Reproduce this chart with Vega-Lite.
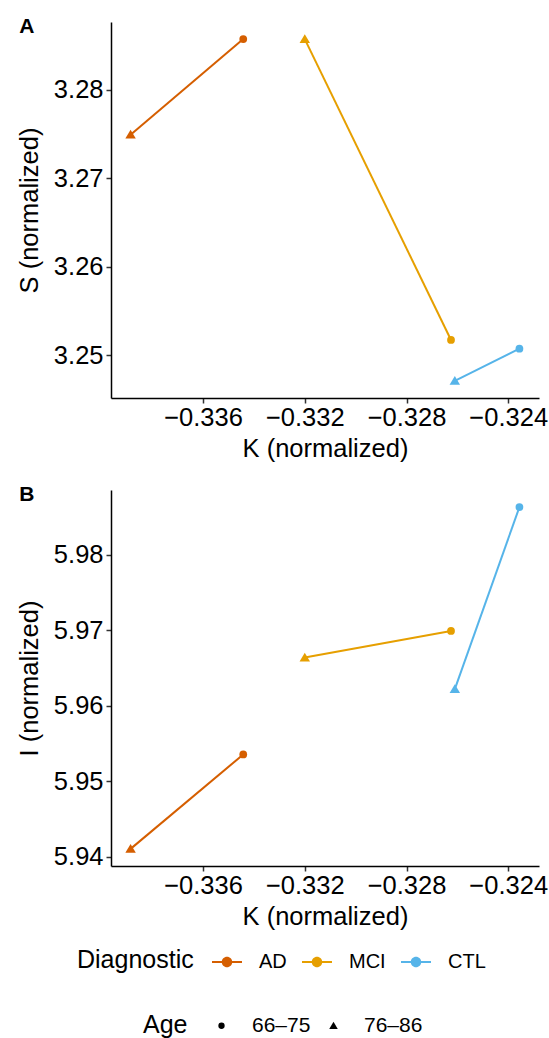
{
  "$schema": "https://vega.github.io/schema/vega-lite/v6.json",
  "padding": {"left": 17, "top": 16, "right": 5, "bottom": 0},
  "bounds": "flush",
  "spacing": 92,
  "datasets": {
    "pts": [
      {"Diagnostic": "AD", "Age": "66–75", "K": -0.33442, "S": 3.28571, "I": 5.95354},
      {"Diagnostic": "AD", "Age": "76–86", "K": -0.33885, "S": 3.27492, "I": 5.94102},
      {"Diagnostic": "MCI", "Age": "66–75", "K": -0.32625, "S": 3.25173, "I": 5.96991},
      {"Diagnostic": "MCI", "Age": "76–86", "K": -0.33200, "S": 3.28571, "I": 5.96638},
      {"Diagnostic": "CTL", "Age": "66–75", "K": -0.32356, "S": 3.25075, "I": 5.98633},
      {"Diagnostic": "CTL", "Age": "76–86", "K": -0.32610, "S": 3.24711, "I": 5.96221}
    ]
  },
  "data": {"name": "pts"},
  "resolve": {
    "scale": {"color": "shared", "shape": "shared"},
    "legend": {"color": "shared", "shape": "shared"}
  },
  "vconcat": [
    {
      "width": 428,
      "height": 376,
      "title": {"text": "A", "anchor": "start", "frame": "bounds", "fontSize": 21, "fontWeight": "bold", "baseline": "alphabetic", "offset": -32, "dx": 2, "color": "black"},
      "encoding": {
        "x": {"field": "K", "type": "quantitative", "title": "K (normalized)",
              "scale": {"domain": [-0.33962, -0.32279], "nice": false, "zero": false},
              "axis": {"values": [-0.336, -0.332, -0.328, -0.324], "format": ".3f"}},
        "y": {"field": "S", "type": "quantitative", "title": "S (normalized)",
              "scale": {"domain": [3.24518, 3.28764], "nice": false, "zero": false},
              "axis": {"values": [3.25, 3.26, 3.27, 3.28], "format": ".2f"}},
        "color": {"field": "Diagnostic", "type": "nominal", "sort": ["AD", "MCI", "CTL"],
                  "scale": {"domain": ["AD", "MCI", "CTL"], "range": ["#D55E00", "#E69F00", "#56B4E9"]},
                  "legend": {"title": "Diagnostic", "orient": "none", "legendX": -34, "legendY": 925, "direction": "horizontal",
                             "titleOrient": "left", "titleFontSize": 25, "labelFontSize": 20, "titlePadding": 18,
                             "symbolType": "M-1,-0.07L1,-0.07L1,0.07L-1,0.07ZM0.35,0A0.35,0.35 0 1,1 -0.35,0A0.35,0.35 0 1,1 0.35,0Z",
                             "symbolSize": 900, "labelOffset": 17, "columnPadding": 15,
                             "encode": {"symbols": {"update": {"fill": {"scale": "color", "field": "value"}, "strokeWidth": {"value": 0}, "opacity": {"value": 1}}}}}}
      },
      "layer": [
        {"mark": {"type": "line", "strokeWidth": 2}, "encoding": {"order": {"field": "Age", "type": "ordinal"}, "detail": {"field": "Diagnostic"}}},
        {"mark": {"type": "point", "filled": true, "opacity": 1, "size": 60},
         "encoding": {"shape": {"field": "Age", "type": "nominal",
                                "scale": {"domain": ["66–75", "76–86"], "range": ["circle", "M0,-1.25L1.35,1L-1.35,1Z"]},
                                "legend": {"title": "Age", "orient": "none", "legendX": 32, "legendY": 993, "direction": "horizontal",
                                           "titleOrient": "left", "titleFontSize": 25, "labelFontSize": 21, "titlePadding": 23,
                                           "symbolSize": 40, "labelOffset": 20, "columnPadding": 12,
                                           "encode": {"symbols": {"update": {"fill": {"value": "black"}, "stroke": {"value": "black"}, "strokeWidth": {"value": 0}, "opacity": {"value": 1}}}}}}}}
      ]
    },
    {
      "width": 428,
      "height": 376,
      "title": {"text": "B", "anchor": "start", "frame": "bounds", "fontSize": 21, "fontWeight": "bold", "baseline": "alphabetic", "offset": -32, "dx": 2, "color": "black"},
      "encoding": {
        "x": {"field": "K", "type": "quantitative", "title": "K (normalized)",
              "scale": {"domain": [-0.33962, -0.32279], "nice": false, "zero": false},
              "axis": {"values": [-0.336, -0.332, -0.328, -0.324], "format": ".3f"}},
        "y": {"field": "I", "type": "quantitative", "title": "I (normalized)",
              "scale": {"domain": [5.93875, 5.9886], "nice": false, "zero": false},
              "axis": {"values": [5.94, 5.95, 5.96, 5.97, 5.98], "format": ".2f"}},
        "color": {"field": "Diagnostic", "type": "nominal", "sort": ["AD", "MCI", "CTL"],
                  "scale": {"domain": ["AD", "MCI", "CTL"], "range": ["#D55E00", "#E69F00", "#56B4E9"]}}
      },
      "layer": [
        {"mark": {"type": "line", "strokeWidth": 2}, "encoding": {"order": {"field": "Age", "type": "ordinal"}, "detail": {"field": "Diagnostic"}}},
        {"mark": {"type": "point", "filled": true, "opacity": 1, "size": 60},
         "encoding": {"shape": {"field": "Age", "type": "nominal",
                                "scale": {"domain": ["66–75", "76–86"], "range": ["circle", "M0,-1.25L1.35,1L-1.35,1Z"]}}}}
      ]
    }
  ],
  "config": {
    "font": "Liberation Sans",
    "view": {"stroke": null},
    "axis": {
      "grid": false, "domainColor": "black", "domainWidth": 1.5, "tickColor": "#333333", "tickWidth": 1.5, "tickSize": 5,
      "labelFontSize": 25.5, "titleFontSize": 25.5, "labelColor": "black", "titleColor": "black", "titleFontWeight": "normal",
      "labelPadding": 5, "titlePadding": 6, "labelFont": "Liberation Sans", "titleFont": "Liberation Sans"
    },
    "axisX": {"labelPadding": 2},
    "axisY": {"titlePadding": 11, "labelPadding": 3},
    "legend": {"labelColor": "black", "titleColor": "black", "titleFontWeight": "normal", "labelFont": "Liberation Sans", "titleFont": "Liberation Sans"}
  }
}
